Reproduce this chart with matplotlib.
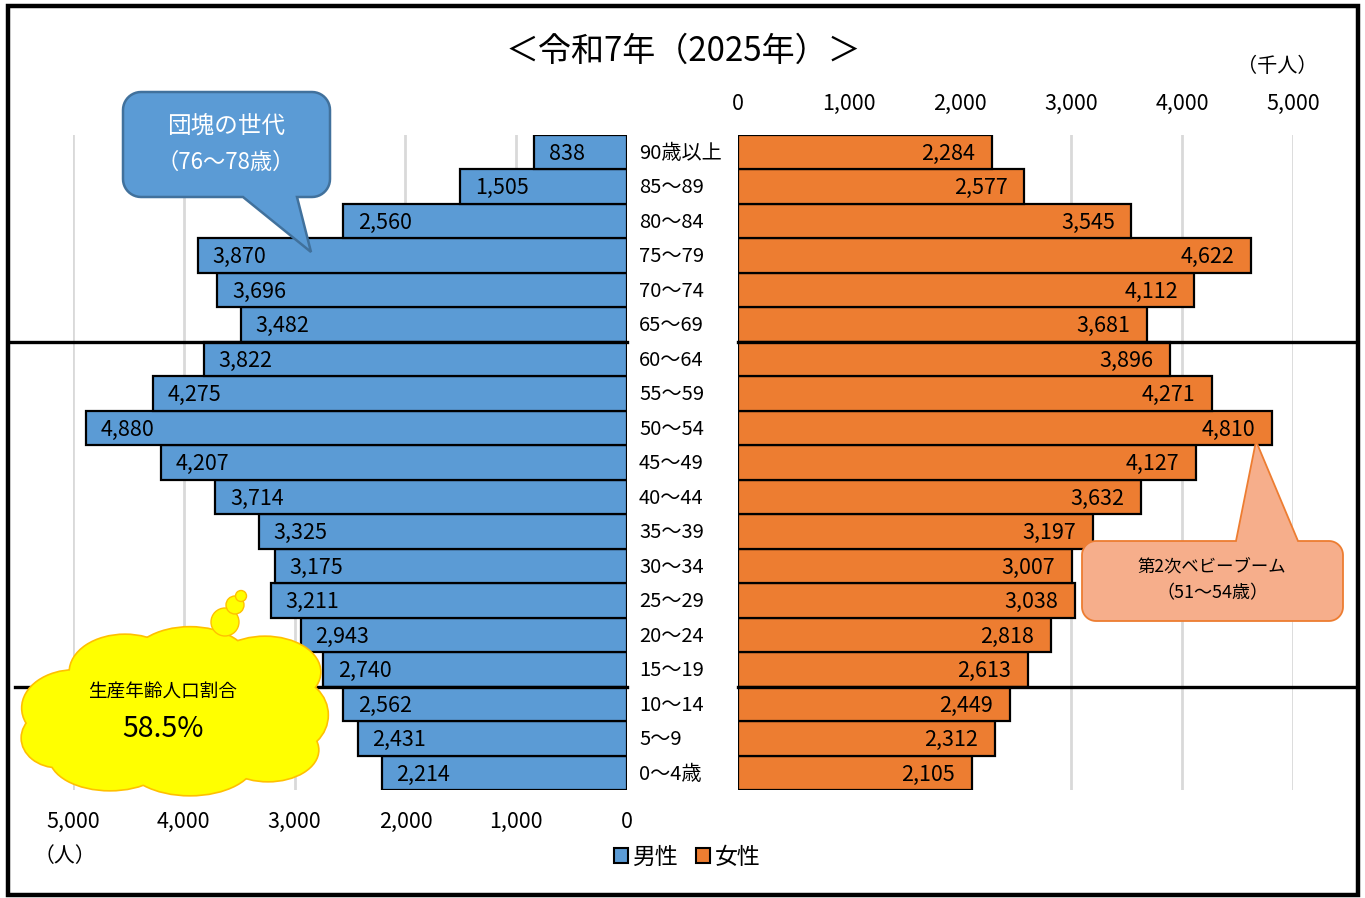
import matplotlib
matplotlib.use("Agg")
import matplotlib.pyplot as plt
import numpy as np
from matplotlib.patches import Patch, Polygon, Ellipse, Circle, Rectangle

plt.rcParams['font.family'] = ['Noto Sans CJK JP', 'DejaVu Sans']

# ---------------- data ----------------
age_labels = ["0～4歳", "5～9", "10～14", "15～19", "20～24", "25～29", "30～34",
              "35～39", "40～44", "45～49", "50～54", "55～59", "60～64", "65～69",
              "70～74", "75～79", "80～84", "85～89", "90歳以上"]
male = [2214, 2431, 2562, 2740, 2943, 3211, 3175, 3325, 3714, 4207, 4880,
        4275, 3822, 3482, 3696, 3870, 2560, 1505, 838]
female = [2105, 2312, 2449, 2613, 2818, 3038, 3007, 3197, 3632, 4127, 4810,
          4271, 3896, 3681, 4112, 4622, 3545, 2577, 2284]
ticks = [0, 1000, 2000, 3000, 4000, 5000]
tick_labels = ["0", "1,000", "2,000", "3,000", "4,000", "5,000"]
title = "＜令和7年（2025年）＞"
legend_labels = ["男性", "女性"]

BLUE = "#5B9BD5"
ORANGE = "#ED7D31"
GRID = "#D9D9D9"

W, H = 1365, 898
fig = plt.figure(figsize=(W / 100, H / 100), dpi=100)
fig.patch.set_facecolor("white")

def fx(px):
    return px / W

def fy(py):
    return 1 - py / H

bottom = fy(790.25)
top = fy(134.75)
axL = fig.add_axes([fx(73), bottom, fx(627) - fx(73), top - bottom])
axR = fig.add_axes([fx(738), bottom, fx(1293) - fx(738), top - bottom])

y = np.arange(len(age_labels))
fs = 15.5
fs_age = 14.5

# left (male)
axL.barh(y, male, height=1.0, color=BLUE, edgecolor="black", linewidth=1.6, zorder=3)
axL.set_xlim(5000, 0)
axL.set_ylim(-0.5, len(age_labels) - 0.5)
axL.set_xticks(ticks)
axL.set_xticklabels(tick_labels, fontsize=fs)
axL.set_yticks([])
axL.tick_params(axis="x", length=0, pad=15)
axL.grid(axis="x", color=GRID, linewidth=2, zorder=0)
for s in axL.spines.values():
    s.set_visible(False)
for yi, v in zip(y, male):
    axL.annotate(f"{v:,}", xy=(v, yi), xytext=(10.5, -1.2), textcoords="offset points",
                 ha="left", va="center", fontsize=fs, zorder=4)

# right (female)
axR.barh(y, female, height=1.0, color=ORANGE, edgecolor="black", linewidth=1.6, zorder=3)
axR.set_xlim(0, 5000)
axR.set_ylim(-0.5, len(age_labels) - 0.5)
axR.set_xticks(ticks)
axR.set_xticklabels(tick_labels, fontsize=fs)
axR.xaxis.tick_top()
axR.set_yticks([])
axR.tick_params(axis="x", length=0, pad=14.5)
axR.grid(axis="x", color=GRID, linewidth=2, zorder=0)
for s in axR.spines.values():
    s.set_visible(False)
for yi, v in zip(y, female):
    axR.annotate(f"{v:,}", xy=(v, yi), xytext=(-12, -1.2), textcoords="offset points",
                 ha="right", va="center", fontsize=fs, zorder=4)

# age labels between the two halves
for yi, lab in zip(y, age_labels):
    axR.annotate(lab, xy=((639 - 738) / 555, yi), xycoords=axR.get_yaxis_transform(),
                 xytext=(0, -0.8), textcoords="offset points",
                 ha="left", va="center", fontsize=fs_age)

# separator lines (working-age population)
for yb, xl in [(12.5, 10), (2.5, 15)]:
    axL.plot([(xl - 73) / 554, 1.0], [yb, yb], transform=axL.get_yaxis_transform(),
             color="black", linewidth=2.4, clip_on=False, zorder=5)
    axR.plot([0.0, (1357 - 738) / 555], [yb, yb], transform=axR.get_yaxis_transform(),
             color="black", linewidth=2.4, clip_on=False, zorder=5)

# ---------------- overlay (pixel coordinates) ----------------
ov = fig.add_axes([0, 0, 1, 1])
ov.set_xlim(0, W)
ov.set_ylim(H, 0)
ov.axis("off")
ov.patch.set_visible(False)
ov.set_zorder(10)

ov.add_patch(Rectangle((8, 6), 1350, 889, fill=False, edgecolor="black", linewidth=3.2))

ov.text(683, 51, title, ha="center", va="center", fontsize=23.8)
ov.text(1277, 66, "（千人）", ha="center", va="center", fontsize=14.5)
ov.text(65, 856, "（人）", ha="center", va="center", fontsize=15)


def callout(x0, y0, x1, y1, r, tail, side):
    pts = []
    def arc(cx, cy, a0, a1):
        for t in np.linspace(np.radians(a0), np.radians(a1), 12):
            pts.append((cx + r * np.cos(t), cy + r * np.sin(t)))
    pts.append((x0 + r, y0))
    if side == "top":
        a, b, tip = tail
        pts += [(a, y0), tip, (b, y0)]
    arc(x1 - r, y0 + r, -90, 0)
    arc(x1 - r, y1 - r, 0, 90)
    if side == "bottom":
        a, b, tip = tail
        pts += [(b, y1), tip, (a, y1)]
    arc(x0 + r, y1 - r, 90, 180)
    arc(x0 + r, y0 + r, 180, 270)
    return pts


blue_pts = callout(123, 92, 330, 197, 18, (243, 297, (311, 252)), "bottom")
ov.add_patch(Polygon(blue_pts, closed=True, facecolor=BLUE, edgecolor="#41719C",
                     linewidth=1.8, zorder=5))
ov.text(226, 126, "団塊の世代", ha="center", va="center", fontsize=17, color="white", zorder=6)
ov.text(226, 162, "（76～78歳）", ha="center", va="center", fontsize=16, color="white", zorder=6)

orange_pts = callout(1082, 541, 1343, 621, 14, (1236, 1298, (1256, 441)), "top")
ov.add_patch(Polygon(orange_pts, closed=True, facecolor="#F6AE8B", edgecolor=ORANGE,
                     linewidth=1.3, zorder=5))
ov.text(1212, 567, "第2次ベビーブーム", ha="center", va="center", fontsize=12.5, zorder=6)
ov.text(1212, 593, "（51～54歳）", ha="center", va="center", fontsize=13, zorder=6)

# cloud
lobes = [(75, 708, 105, 75), (125, 672, 110, 74), (190, 665, 122, 75),
         (265, 672, 110, 70), (290, 715, 75, 72), (268, 750, 100, 62),
         (190, 760, 130, 70), (110, 757, 120, 66), (58, 738, 72, 58),
         (170, 712, 250, 120)]
for cx, cy, w, h in lobes:
    ov.add_patch(Ellipse((cx, cy), w, h, facecolor="#FFFF00", edgecolor="#FFC000",
                         linewidth=2.4, zorder=3))
for cx, cy, w, h in lobes:
    ov.add_patch(Ellipse((cx, cy), w, h, facecolor="#FFFF00", edgecolor="none", zorder=4))
for cx, cy, rr in [(225, 622, 14), (235, 605, 9), (241, 596, 5.5)]:
    ov.add_patch(Circle((cx, cy), rr, facecolor="#FFFF00", edgecolor="#FFC000",
                        linewidth=1.0, zorder=4))
ov.text(163, 693, "生産年齢人口割合", ha="center", va="center", fontsize=13.4, zorder=6)
ov.text(163, 729, "58.5%", ha="center", va="center", fontsize=20.5, zorder=6)

# legend
handles = [Patch(facecolor=BLUE, edgecolor="black", linewidth=1.5),
           Patch(facecolor=ORANGE, edgecolor="black", linewidth=1.5)]
fig.legend(handles, legend_labels, loc="center", bbox_to_anchor=(fx(687), fy(857)),
           ncol=2, frameon=False, fontsize=16.5, handlelength=0.6, handleheight=0.6,
           handletextpad=0.2, columnspacing=0.8)

fig.savefig("out.png", dpi=100)
